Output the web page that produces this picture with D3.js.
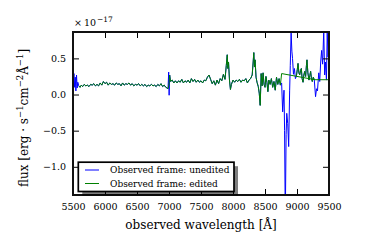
<!DOCTYPE html>
<html>
<head>
<meta charset="utf-8">
<script src="https://cdn.jsdelivr.net/npm/d3@7"></script>
<style>
    body { margin: 0; background: #fff; }
    svg text { font-family: "DejaVu Serif", serif; fill: #000; }
</style>
</head>
<body>
<script>
// wavelength [A], flux [1e-17 erg/s/cm2/A]
// raw spectrum only, before the edited copy begins
const fluxRawStart = [[5505,0.16],[5515,0.29],[5525,0.10],[5535,0.24],[5545,0.05],[5555,0.27],[5565,0.09],[5575,0.17]];
// same in both spectra
const fluxShared1 = [[5590,0.12],[5610,0.10],[5630,0.13],[5650,0.11],[5675,0.14],[5700,0.12],[5725,0.13],[5750,0.11],[5775,0.14],[5800,0.13],[5825,0.15],[5850,0.12],[5875,0.14],[5900,0.12],[5925,0.16],[5950,0.13],[5975,0.18],[6000,0.15],[6025,0.17],[6050,0.13],[6075,0.16],[6100,0.14],[6125,0.15],[6150,0.13],[6175,0.16],[6200,0.14],[6225,0.15],[6250,0.12],[6275,0.16],[6300,0.13],[6325,0.15],[6350,0.14],[6375,0.16],[6400,0.13],[6425,0.15],[6450,0.12],[6475,0.14],[6500,0.13],[6525,0.15],[6550,0.12],[6575,0.14],[6600,0.12],[6625,0.14],[6650,0.11],[6675,0.13],[6700,0.12],[6725,0.14],[6750,0.12],[6775,0.13],[6800,0.11],[6825,0.14],[6850,0.12],[6875,0.15],[6900,0.11],[6925,0.13],[6950,0.10],[6970,0.09],[6985,0.08]];
const flux7000Raw = [[6995,0.31],[7002,-0.01]];
const flux7000Edited = [[6995,0.12],[7002,0.16]];
const fluxShared2 = [[7010,0.27],[7025,0.18],[7050,0.20],[7075,0.16],[7100,0.19],[7125,0.16],[7150,0.19],[7175,0.17],[7200,0.21],[7225,0.16],[7250,0.19],[7275,0.17],[7300,0.20],[7325,0.16],[7350,0.22],[7375,0.18],[7400,0.21],[7425,0.17],[7450,0.20],[7475,0.17],[7500,0.19],[7525,0.16],[7550,0.20],[7575,0.19],[7600,0.24],[7625,0.27],[7650,0.21],[7675,0.15],[7700,0.19],[7725,0.13],[7750,0.20],[7775,0.15],[7800,0.22],[7825,0.19],[7850,0.28],[7875,0.21],[7895,0.40],[7910,0.55],[7920,0.36],[7930,0.45],[7945,0.20],[7960,0.07],[7975,0.14],[8000,0.20],[8025,0.17],[8050,0.20],[8075,0.18],[8100,0.21],[8125,0.17],[8150,0.20],[8175,0.19],[8200,0.22],[8225,0.16],[8250,0.20],[8275,0.22],[8300,0.27],[8315,0.45],[8325,0.58],[8335,0.38],[8345,0.48],[8360,0.24],[8375,0.17],[8395,0.11],[8410,0.02],[8425,-0.15],[8440,0.29],[8455,0.12],[8470,0.30],[8485,0.14],[8500,0.10],[8515,0.25],[8530,0.17],[8545,0.04],[8560,0.20],[8580,0.14],[8600,0.22],[8620,0.10],[8640,0.18],[8660,0.06],[8680,0.24],[8700,0.14],[8720,0.22],[8740,0.13]];
// sky line region
const fluxSkyRaw = [[8760,0.16],[8776,-0.24],[8797,0.06],[8806,-0.50],[8817,-1.75],[8830,-0.55],[8840,-0.26],[8855,-0.40],[8870,-0.72],[8885,0.05],[8895,0.40],[8908,0.85],[8920,0.60],[8930,0.50],[8945,0.28],[8960,0.36],[8975,0.22]];
const fluxShared3 = [[8990,0.25],[9005,0.35],[9016,0.43],[9030,0.30],[9042,0.27],[9055,0.33],[9068,0.36],[9080,0.22],[9094,0.17],[9107,0.27],[9120,0.32],[9135,0.25],[9147,0.40],[9156,0.48],[9170,0.30],[9187,0.20],[9200,0.26],[9213,0.32],[9226,0.22],[9239,0.18],[9255,0.24],[9270,0.205]];
const fluxRedRaw = [[9290,-0.03],[9305,0.08],[9320,0.05],[9340,0.30],[9355,0.18],[9370,0.45],[9385,0.61],[9400,0.42],[9418,0.88],[9432,0.27],[9445,0.45],[9460,0.20],[9472,0.88],[9485,0.52],[9500,0.80]];
// interpolated bridge over the sky lines in the edited spectrum
const editedBridge = [[8760,0.29],[9280,0.205],[9500,0.205]];

const xTicks = [5500, 6000, 6500, 7000, 7500, 8000, 8500, 9000, 9500];
const yTicks = [-1.0, -0.5, 0.0, 0.5];
const seriesNames = ["Observed frame: unedited", "Observed frame: edited"];
const seriesColors = ["#0000ff", "#008000"];

const unedited = [...fluxRawStart, ...fluxShared1, ...flux7000Raw, ...fluxShared2, ...fluxSkyRaw, ...fluxShared3, ...fluxRedRaw];
const edited = [...fluxShared1, ...flux7000Edited, ...fluxShared2, ...editedBridge];

const W = 366, H = 246;
const plot = {left: 73, top: 32, right: 329, bottom: 195};

//Scales
const xScale = d3.scaleLinear().domain([5500, 9500]).range([plot.left, plot.right]);
const yScale = d3.scaleLinear().domain([-1.39, 0.865]).range([plot.bottom, plot.top]);

const svg = d3.select("body")
    .append("svg")
    .attr("width", W)
    .attr("height", H);

svg.append("clipPath")
    .attr("id", "clip")
    .append("rect")
    .attr("x", plot.left)
    .attr("y", plot.top)
    .attr("width", plot.right - plot.left)
    .attr("height", plot.bottom - plot.top);

//Lines
const line = d3.line().x(d => xScale(d[0])).y(d => yScale(d[1]));
const lines = svg.append("g").attr("clip-path", "url(#clip)");
lines.append("path")
    .attr("d", line(unedited))
    .attr("fill", "none")
    .attr("stroke", seriesColors[0])
    .attr("stroke-width", 1);
lines.append("path")
    .attr("d", line(edited))
    .attr("fill", "none")
    .attr("stroke", seriesColors[1])
    .attr("stroke-width", 1);
lines.append("path")
    .attr("d", line(fluxShared3))
    .attr("fill", "none")
    .attr("stroke", seriesColors[1])
    .attr("stroke-width", 1);

//Axes, ticks pointing inward
const tickFont = 9.5;
const styleAxis = g => {
    g.select(".domain").remove();
    g.selectAll(".tick line").attr("stroke", "#000").attr("stroke-width", 1);
    g.selectAll("text").attr("font-family", "DejaVu Serif").attr("font-size", tickFont).attr("fill", "#000");
};
svg.append("g")
    .attr("transform", "translate(0," + plot.bottom + ")")
    .call(d3.axisBottom(xScale).tickValues(xTicks).tickSize(-6).tickPadding(8.5).tickFormat(d3.format("d")))
    .call(styleAxis);
svg.append("g")
    .attr("transform", "translate(0," + plot.top + ")")
    .call(d3.axisTop(xScale).tickValues(xTicks).tickSize(-6).tickFormat(""))
    .call(styleAxis);
svg.append("g")
    .attr("transform", "translate(" + plot.left + ",0)")
    .call(d3.axisLeft(yScale).tickValues(yTicks).tickSize(-6).tickPadding(7).tickFormat(d3.format(".1f")))
    .call(styleAxis);
svg.append("g")
    .attr("transform", "translate(" + plot.right + ",0)")
    .call(d3.axisRight(yScale).tickValues(yTicks).tickSize(-6).tickFormat(""))
    .call(styleAxis);

//Frame
svg.append("rect")
    .attr("x", plot.left)
    .attr("y", plot.top)
    .attr("width", plot.right - plot.left)
    .attr("height", plot.bottom - plot.top)
    .attr("fill", "none")
    .attr("stroke", "#111")
    .attr("stroke-width", 2);

//Offset text
const offset = svg.append("text")
    .attr("x", 74)
    .attr("y", 25.5)
    .attr("font-size", tickFont);
offset.append("tspan").text("×");
offset.append("tspan").attr("dx", 2).text("10");
offset.append("tspan").attr("dx", 1).attr("dy", -4).attr("font-size", 7.5).text("−17");

//Axis labels
svg.append("text")
    .attr("x", (plot.left + plot.right) / 2)
    .attr("y", 229)
    .attr("text-anchor", "middle")
    .attr("font-size", 12)
    .text("observed wavelength [Å]");

const ylab = svg.append("text")
    .attr("transform", "translate(28," + 118 + ") rotate(-90)")
    .attr("text-anchor", "middle")
    .attr("font-size", 12);
ylab.append("tspan").text("flux [erg · s");
ylab.append("tspan").attr("dy", -5).attr("font-size", 8.5).text("−1");
ylab.append("tspan").attr("dy", 5).text("cm");
ylab.append("tspan").attr("dy", -5).attr("font-size", 8.5).text("−2");
ylab.append("tspan").attr("dy", 5).text("Å");
ylab.append("tspan").attr("dy", -5).attr("font-size", 8.5).text("−1");
ylab.append("tspan").attr("dy", 5).text("]");

//Legend
const legend = {x: 78.3, y: 162.2, w: 155.7, h: 29.3};
svg.append("rect")
    .attr("x", legend.x + 4)
    .attr("y", legend.y + 4)
    .attr("width", legend.w)
    .attr("height", legend.h)
    .attr("fill", "#000")
    .attr("opacity", 0.5);
svg.append("rect")
    .attr("x", legend.x)
    .attr("y", legend.y)
    .attr("width", legend.w)
    .attr("height", legend.h)
    .attr("fill", "#fff")
    .attr("stroke", "#000")
    .attr("stroke-width", 1.7);
const rows = svg.append("g")
    .selectAll("g")
    .data(seriesNames)
    .enter()
    .append("g")
    .attr("transform", (d, i) => "translate(0," + (170 + i * 13.5) + ")");
rows.append("line")
    .attr("x1", 85)
    .attr("x2", 99)
    .attr("stroke", (d, i) => seriesColors[i])
    .attr("stroke-width", 1);
rows.append("text")
    .attr("x", 110)
    .attr("y", 3.4)
    .attr("font-size", 9)
    .text(d => d);
</script>
</body>
</html>
